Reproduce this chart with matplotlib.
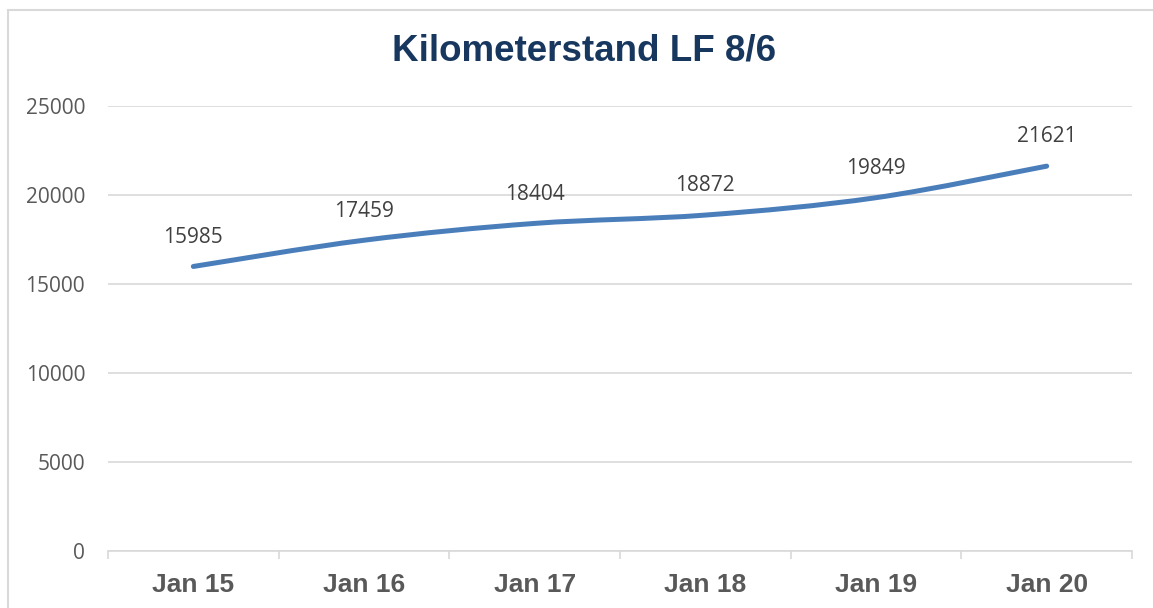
import numpy as np
import matplotlib.pyplot as plt
from matplotlib.path import Path
from matplotlib.patches import PathPatch, Rectangle

categories = ["Jan 15", "Jan 16", "Jan 17", "Jan 18", "Jan 19", "Jan 20"]
values = [15985, 17459, 18404, 18872, 19849, 21621]
yticks = [0, 5000, 10000, 15000, 20000, 25000]

LINE = "#4A7EBB"
GRID = "#D9D9D9"

fig = plt.figure(figsize=(11.53, 6.08), dpi=100)
ax = fig.add_axes([108 / 1153, 1 - 551 / 608, (1132 - 108) / 1153, (551 - 106) / 608])

x = np.arange(len(values))
y = np.array(values, dtype=float)

# smoothed line like excel: catmull-rom turned into bezier segments
verts = [(x[0], y[0])]
codes = [Path.MOVETO]
for i in range(len(x) - 1):
    x0, y0 = (x[i - 1], y[i - 1]) if i > 0 else (x[i], y[i])
    x3, y3 = (x[i + 2], y[i + 2]) if i + 2 < len(x) else (x[i + 1], y[i + 1])
    c1 = (x[i] + (x[i + 1] - x0) / 6, y[i] + (y[i + 1] - y0) / 6)
    c2 = (x[i + 1] - (x3 - x[i]) / 6, y[i + 1] - (y3 - y[i]) / 6)
    verts += [c1, c2, (x[i + 1], y[i + 1])]
    codes += [Path.CURVE4] * 3
ax.add_patch(PathPatch(Path(verts, codes), fill=False, edgecolor=LINE,
                       lw=3.6, capstyle="round", joinstyle="round", zorder=3))

for xi, yi in zip(x, values):
    ax.annotate(str(yi), (xi, yi), xytext=(0, 21), textcoords="offset points",
                ha="center", va="center", fontsize=15, color="#404040",
                family="Open Sans")

ax.set_xlim(-0.5, len(values) - 0.5)
ax.set_ylim(0, 25000)
ax.set_yticks(yticks)
ax.set_yticklabels([str(t) for t in yticks], family="Open Sans", fontsize=15, color="#595959")
ax.yaxis.grid(True, color=GRID, lw=1.2)
ax.set_axisbelow(True)
ax.tick_params(axis="y", length=0, pad=16.5)

ax.set_xticks(x)
ax.set_xticklabels(categories, fontsize=19, fontweight="bold", color="#595959",
                   family="Liberation Sans")
ax.tick_params(axis="x", length=0, pad=15.5)
# category boundary ticks
ax.set_xticks(np.arange(len(values) + 1) - 0.5, minor=True)
ax.tick_params(axis="x", which="minor", length=6, color=GRID, width=1.2)

for s in ["top", "right", "left"]:
    ax.spines[s].set_visible(False)
ax.spines["bottom"].set_color(GRID)
ax.spines["bottom"].set_linewidth(1.2)

fig.text(584 / 1153, 1 - 51 / 608, "Kilometerstand LF 8/6", ha="center", va="center",
         fontsize=26.5, fontweight="bold", color="#17375E", family="Liberation Sans")

# chart border (only top and left visible in the frame)
fig.patches.append(Rectangle((8 / 1153, -0.1), 1.2, 1 - 10 / 608 + 0.1,
                             transform=fig.transFigure, fill=False,
                             edgecolor=GRID, lw=1.5))

fig.savefig("out.png", dpi=100)
